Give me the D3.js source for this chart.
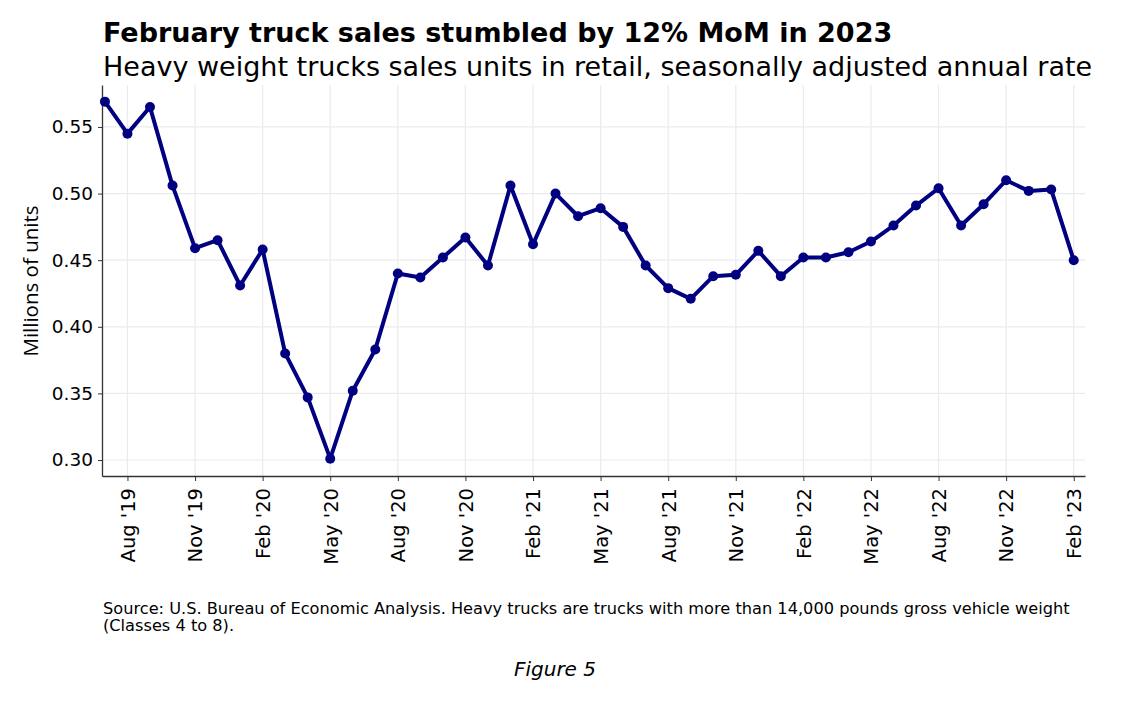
<!DOCTYPE html>
<html>
<head>
<meta charset="utf-8">
<script src="https://cdn.jsdelivr.net/npm/d3@7"></script>
<style>
  html, body { margin: 0; padding: 0; background: #fff; }
  svg { display: block; }
</style>
</head>
<body>
<svg id="chart" width="1134" height="714"></svg>
<script>
const months = ["Jul '19","Aug '19","Sep '19","Oct '19","Nov '19","Dec '19",
  "Jan '20","Feb '20","Mar '20","Apr '20","May '20","Jun '20","Jul '20","Aug '20","Sep '20","Oct '20","Nov '20","Dec '20",
  "Jan '21","Feb '21","Mar '21","Apr '21","May '21","Jun '21","Jul '21","Aug '21","Sep '21","Oct '21","Nov '21","Dec '21",
  "Jan '22","Feb '22","Mar '22","Apr '22","May '22","Jun '22","Jul '22","Aug '22","Sep '22","Oct '22","Nov '22","Dec '22",
  "Jan '23","Feb '23"];
const sales = [0.569,0.545,0.565,0.506,0.459,0.465,
  0.431,0.458,0.380,0.347,0.301,0.352,0.383,0.440,0.437,0.452,0.467,0.446,
  0.506,0.462,0.500,0.483,0.489,0.475,0.446,0.429,0.421,0.438,0.439,0.457,
  0.438,0.452,0.452,0.456,0.464,0.476,0.491,0.504,0.476,0.492,0.510,0.502,
  0.503,0.450];
const xTickLabels = ["Aug '19","Nov '19","Feb '20","May '20","Aug '20","Nov '20","Feb '21","May '21","Aug '21","Nov '21","Feb '22","May '22","Aug '22","Nov '22","Feb '23"];
const yTicks = [0.30,0.35,0.40,0.45,0.50,0.55];

const svg = d3.select("#chart");
const L = 102, R = 1085, T = 85, B = 476;

const x = d3.scaleLinear().domain([-0.13, 43.5]).range([L, R]);
const y = d3.scaleLinear().domain([0.288, 0.5815]).range([B, T]);

const xTickIdx = xTickLabels.map(l => months.indexOf(l));

// grid
const grid = svg.append("g").attr("stroke", "#ebebeb").attr("stroke-width", 1.2);
grid.selectAll("line.gy").data(yTicks).join("line")
  .attr("x1", L).attr("x2", R).attr("y1", d => y(d)).attr("y2", d => y(d));
grid.selectAll("line.gx").data(xTickIdx).join("line")
  .attr("x1", d => x(d)).attr("x2", d => x(d)).attr("y1", T).attr("y2", B);

// axes
const xAxis = svg.append("g").attr("transform", `translate(0,${B})`)
  .call(d3.axisBottom(x).tickValues(xTickIdx).tickFormat(d => months[d]).tickSize(5).tickPadding(4).tickSizeOuter(0));
xAxis.select(".domain").attr("stroke", "#333").attr("stroke-width", 1.3);
xAxis.selectAll(".tick line").attr("stroke", "#333");
xAxis.selectAll(".tick text")
  .attr("font-family", "DejaVu Sans").attr("font-size", 19.5).attr("fill", "#000")
  .attr("transform", "rotate(-90)")
  .attr("text-anchor", "end").attr("dy", "0.35em").attr("x", -12).attr("y", 0);

const yAxis = svg.append("g").attr("transform", `translate(${L},0)`)
  .call(d3.axisLeft(y).tickValues(yTicks).tickFormat(d3.format(".2f")).tickSize(4).tickPadding(5).tickSizeOuter(0));
yAxis.select(".domain").attr("stroke", "#333").attr("stroke-width", 1.3);
yAxis.selectAll(".tick line").attr("stroke", "#333");
yAxis.selectAll(".tick text").attr("font-family", "DejaVu Sans").attr("font-size", 18.5).attr("fill", "#000");

// line
const line = d3.line().x((d, i) => x(i)).y(d => y(d));
svg.append("path").datum(sales)
  .attr("d", line).attr("fill", "none").attr("stroke", "#000080")
  .attr("stroke-width", 4).attr("stroke-linejoin", "round");
svg.append("g").selectAll("circle").data(sales).join("circle")
  .attr("cx", (d, i) => x(i)).attr("cy", d => y(d)).attr("r", 5).attr("fill", "#000080");

// titles
svg.append("text").attr("x", 103).attr("y", 42)
  .attr("font-family", "DejaVu Sans").attr("font-weight", "bold").attr("font-size", 27)
  .text("February truck sales stumbled by 12% MoM in 2023");
svg.append("text").attr("x", 103).attr("y", 76)
  .attr("font-family", "DejaVu Sans").attr("font-size", 27)
  .text("Heavy weight trucks sales units in retail, seasonally adjusted annual rate");

svg.append("text").attr("transform", "translate(38,281) rotate(-90)")
  .attr("text-anchor", "middle").attr("font-family", "Open Sans").attr("font-size", 20.5)
  .text("Millions of units");

// source
svg.append("text").attr("x", 103).attr("y", 614)
  .attr("font-family", "DejaVu Sans").attr("font-size", 16.2)
  .text("Source: U.S. Bureau of Economic Analysis. Heavy trucks are trucks with more than 14,000 pounds gross vehicle weight");
svg.append("text").attr("x", 103).attr("y", 631)
  .attr("font-family", "DejaVu Sans").attr("font-size", 16.2)
  .text("(Classes 4 to 8).");

svg.append("text").attr("x", 555).attr("y", 676).attr("text-anchor", "middle")
  .attr("font-family", "DejaVu Sans").attr("font-style", "italic").attr("font-size", 20)
  .text("Figure 5");
</script>
</body>
</html>
